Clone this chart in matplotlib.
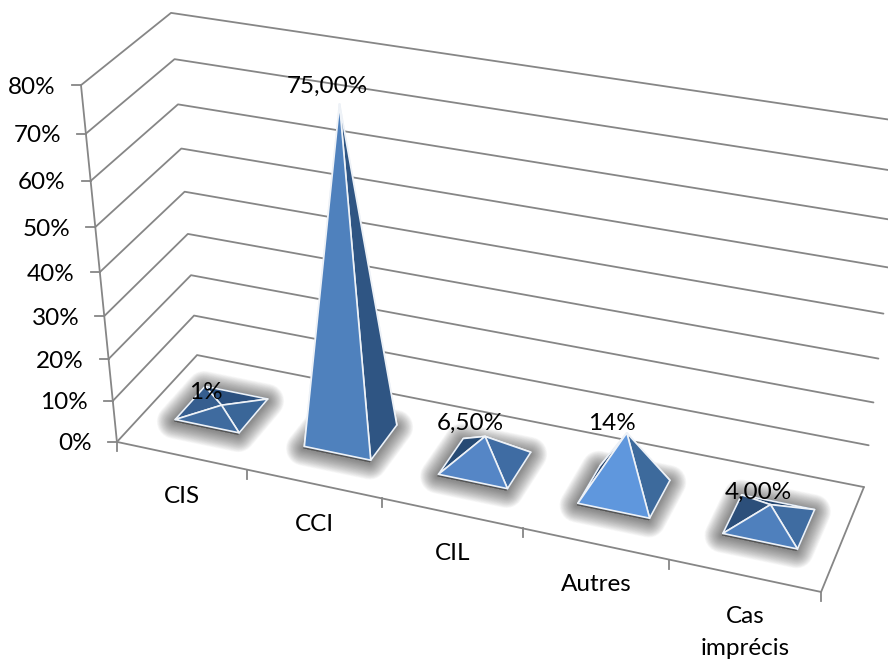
import matplotlib
matplotlib.use("Agg")
import matplotlib.pyplot as plt
import numpy as np

categories = ["CIS", "CCI", "CIL", "Autres", "Cas\nimprécis"]
values = [1, 75, 6.5, 14, 4]
value_labels = ["1%", "75,00%", "6,50%", "14%", "4,00%"]
ticks = [0, 10, 20, 30, 40, 50, 60, 70, 80]

# back, left, right, front face colours of each pyramid
face_colors = [
    ["#2c5180", "#365e8f", "#3a6698", "#3f6b9f"],
    ["#24466f", "#2f5583", "#2f5583", "#4f81bd"],
    ["#24466f", "#264a74", "#3f6ca3", "#5586c6"],
    ["#1f3f6a", "#1f3f6a", "#3d6a9c", "#5f97dd"],
    ["#24466f", "#2c4f7a", "#3f6ca1", "#4f80bd"],
]
label_offsets = [(-16, -13), (-12, -18), (-15, -13), (-15, -9), (-12, -12)]

plt.rcParams["font.family"] = ["Lato", "DejaVu Sans"]
GREY = "#868686"
FS = 17.5

# view of the 3D box: (category, depth, value) -> image pixel
corners = [
    ((0, 0, 0), (117, 442)), ((0, 0, 80), (81, 85)),
    ((0, 1, 0), (197, 355)), ((0, 1, 80), (171, 13)),
    ((5, 1, 0), (864, 487)), ((5, 1, 80), (905, 122)),
    ((5, 0, 0), (821, 592)),
]
rows = []
for (x, y, z), (px, py) in corners:
    rows.append([x, y, z, 1, 0, 0, 0, 0, -px * x, -px * y, -px * z, -px])
    rows.append([0, 0, 0, 0, x, y, z, 1, -py * x, -py * y, -py * z, -py])
cam = np.linalg.svd(np.array(rows, float))[2][-1].reshape(3, 4)


def proj(x, y, z):
    p = cam @ np.array([x, y, z, 1.0])
    return p[0] / p[2], p[1] / p[2]


fig = plt.figure(figsize=(8.88, 6.68), dpi=100)
ax = fig.add_axes([0, 0, 1, 1])
ax.set_xlim(0, 888)
ax.set_ylim(668, 0)
ax.axis("off")


def line(pts, z=1):
    xs, ys = zip(*pts)
    ax.plot(xs, ys, color=GREY, lw=1.3, zorder=z, solid_capstyle="round")


n = len(categories)
for t in ticks:
    line([proj(0, 0, t), proj(0, 1, t), proj(n, 1, t)])
    x0, y0 = proj(0, 0, t)
    ax.plot([x0 - 9, x0], [y0, y0], color=GREY, lw=1.3, zorder=1)
    ax.text(x0 - 25, y0 + 2, "%d%%" % t, ha="right", va="center", fontsize=FS, color="black")
line([proj(0, 0, 0), proj(0, 0, 80)])
line([proj(0, 0, 0), proj(n, 0, 0), proj(n, 1, 0)])

for i in range(n + 1):
    x0, y0 = proj(i, 0, 0)
    ax.plot([x0, x0], [y0, y0 + 9], color=GREY, lw=1.3, zorder=1)

for i, name in enumerate(categories):
    x0, y0 = proj(i + 0.5, 0, 0)
    ax.text(x0 + 1, y0 + 30, name, ha="center", va="top", fontsize=FS, linespacing=1.65)

GAP = 0.25
D0, D1 = 0.32, 0.70
for i, v in enumerate(values):
    fl = proj(i + GAP, D0, 0)
    fr = proj(i + 1 - GAP, D0, 0)
    br = proj(i + 1 - GAP, D1, 0)
    bl = proj(i + GAP, D1, 0)
    top = proj(i + 0.5, (D0 + D1) / 2, v)
    base = np.array([fl, fr, br, bl])
    # soft shadow under the base
    for lw in np.arange(25, 0, -1.0):
        ax.fill(base[:, 0] - 1, base[:, 1] + 2, facecolor="#383838", edgecolor="#383838",
                lw=lw, alpha=0.03, joinstyle="round", zorder=2)
    ax.fill(base[:, 0], base[:, 1], color="#3a6698", zorder=3)
    faces = [(bl, br), (fl, bl), (fr, br), (fl, fr)]
    for (a, b), c in zip(faces, face_colors[i]):
        ax.fill([a[0], b[0], top[0]], [a[1], b[1], top[1]], facecolor=c,
                edgecolor="#eef2f7", lw=1.2, joinstyle="round", zorder=4)
    dx, dy = label_offsets[i]
    ax.text(top[0] + dx, top[1] + dy, value_labels[i], ha="center", va="center",
            fontsize=FS, color="black", zorder=6)

fig.savefig("out.png", dpi=100)
